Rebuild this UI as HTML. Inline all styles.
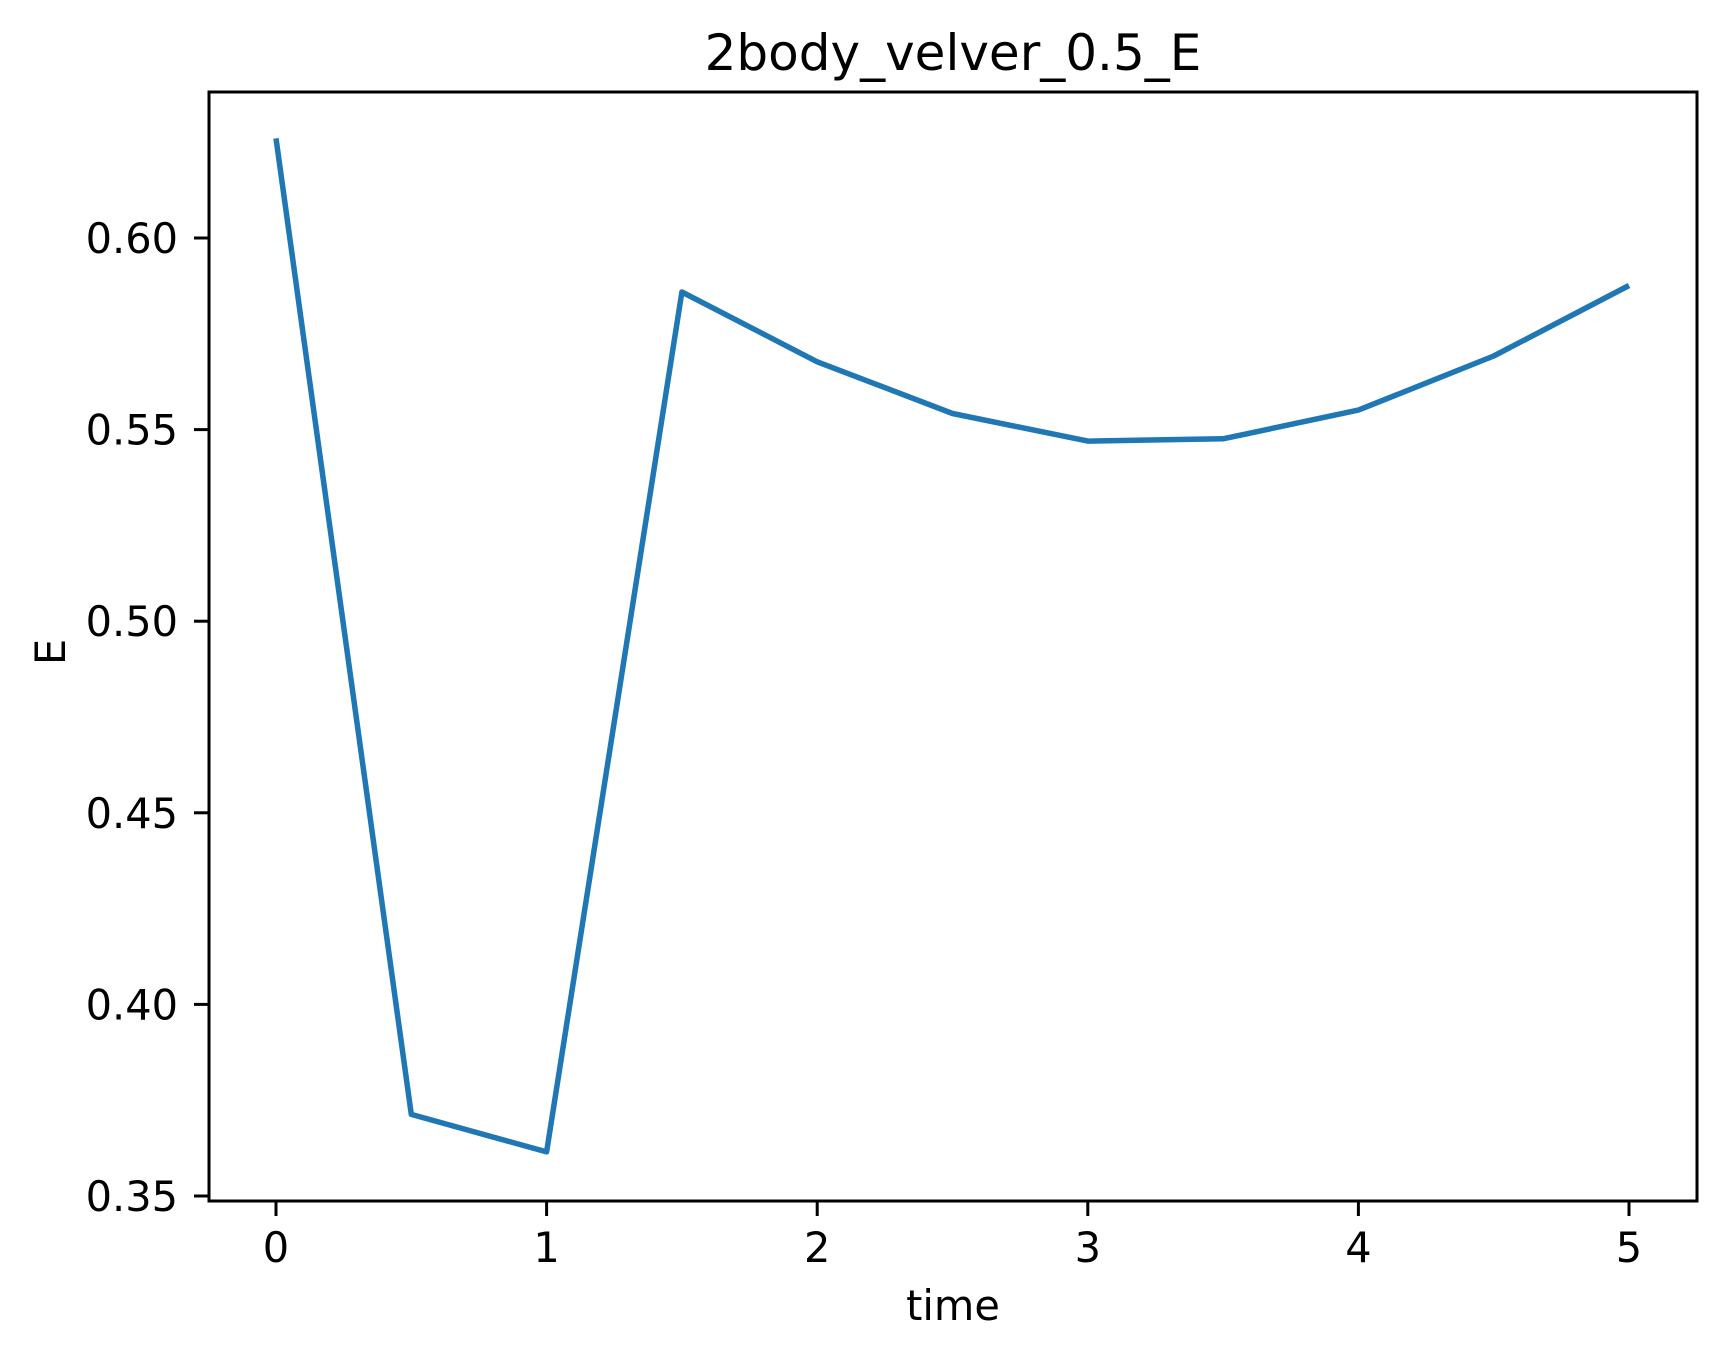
<!DOCTYPE html>
<html><head><meta charset="utf-8"><style>
html,body{margin:0;padding:0;background:#fff;}
svg{display:block;font-family:"DejaVu Sans","Liberation Sans",sans-serif;}
</style></head><body>
<svg id="chart" width="1726" height="1357" viewBox="0 0 1726 1357" xmlns="http://www.w3.org/2000/svg">
<rect x="0" y="0" width="1726" height="1357" fill="#fff"/>
<text x="953" y="70" font-size="50" text-anchor="middle">2body_velver_0.5_E</text>
<g id="plot"></g>
<text x="953" y="1320" font-size="41.5" text-anchor="middle">time</text>
<text x="0" y="0" font-size="41.5" text-anchor="middle" transform="translate(65,652) rotate(-90)">E</text>
</svg>
<script>
const times = [0, 0.5, 1, 1.5, 2, 2.5, 3, 3.5, 4, 4.5, 5];
const energy = [0.626, 0.3713, 0.3615, 0.5859, 0.5677, 0.5542, 0.547, 0.5476, 0.5551, 0.5692, 0.5876];
const xTicks = [0, 1, 2, 3, 4, 5];
const xTickLabels = ["0", "1", "2", "3", "4", "5"];
const yTicks = [0.35, 0.40, 0.45, 0.50, 0.55, 0.60];
const yTickLabels = ["0.35", "0.40", "0.45", "0.50", "0.55", "0.60"];

const NS = "http://www.w3.org/2000/svg";
const L = 209, R = 1697, T = 92, B = 1201;
function xs(t){ return 276 + (t - 0) * (1629 - 276) / 5; }
function ys(v){ return 238 + (0.60 - v) * (1196 - 238) / 0.25; }
const g = document.getElementById('plot');
function mk(tag, attrs){ const e = document.createElementNS(NS, tag); for (const k in attrs) e.setAttribute(k, attrs[k]); g.appendChild(e); return e; }

const pts = times.map((t,i)=> xs(t).toFixed(1)+','+ys(energy[i]).toFixed(1)).join(' ');
const line = mk('polyline', {points: pts, fill: 'none', stroke: '#1f77b4', 'stroke-width': 5.5, 'stroke-linejoin': 'round', 'stroke-linecap': 'butt'});



xTicks.forEach((t,i)=>{
  const x = xs(t);
  const tk = mk('line', {x1: x, x2: x, y1: B, y2: B + 15, stroke: '#000', 'stroke-width': 3});
  
  
  const lb = mk('text', {x: x, y: 1262, 'font-size': 41.5, 'text-anchor': 'middle'});
  lb.textContent = xTickLabels[i];
  
  
});
yTicks.forEach((v,i)=>{
  const y = ys(v);
  const tk = mk('line', {x1: L - 15, x2: L, y1: y, y2: y, stroke: '#000', 'stroke-width': 3});
  
  
  const lb = mk('text', {x: 178, y: y + 15, 'font-size': 41.5, 'text-anchor': 'end'});
  lb.textContent = yTickLabels[i];
  
  
});
const frame = mk('rect', {x: L, y: T, width: R - L, height: B - T, fill: 'none', stroke: '#000', 'stroke-width': 3});


</script>
</body></html>
